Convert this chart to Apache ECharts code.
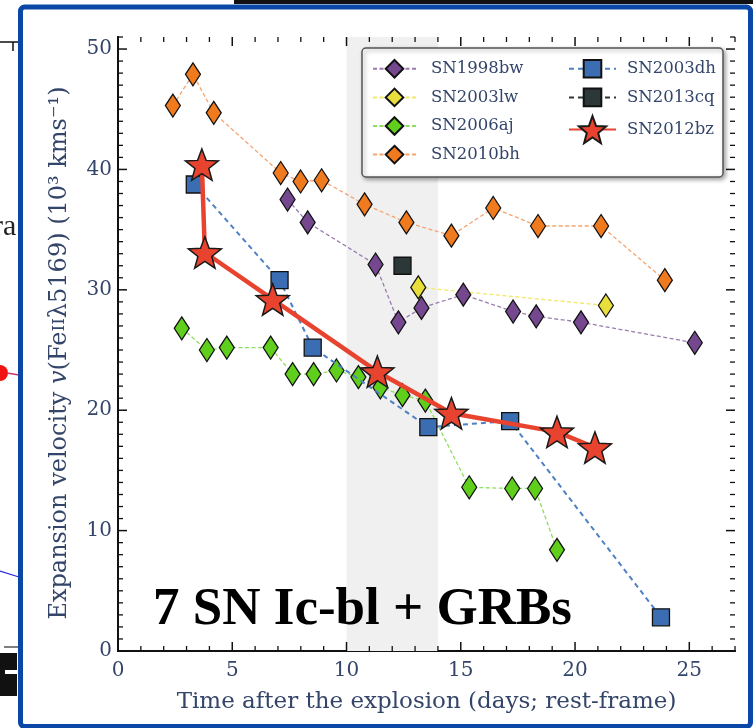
<!DOCTYPE html>
<html>
<head>
<meta charset="utf-8">
<script src="https://cdn.jsdelivr.net/npm/echarts@6/dist/echarts.min.js"></script>
<style>
  html, body { margin: 0; padding: 0; background: #ffffff; }
  #chart { width: 753px; height: 728px; }
</style>
</head>
<body>
<div id="chart"></div>
<script>
// Fe II 5169 expansion velocities (10^3 km/s) vs. rest-frame days after explosion
const sn1998bwDays = [7.42, 8.30, 11.27, 12.27, 13.28, 15.11, 17.29, 18.30, 20.26, 25.24];
const sn1998bwVel  = [37.5, 35.6, 32.1, 27.3, 28.5, 29.6, 28.2, 27.8, 27.3, 25.6];

const sn2003lwDays = [13.14, 21.35];
const sn2003lwVel  = [30.2, 28.7];

const sn2006ajDays = [2.79, 3.89, 4.76, 6.68, 7.64, 8.56, 9.56, 10.52, 11.48, 12.45, 13.45, 15.37, 17.25, 18.25, 19.21];
const sn2006ajVel  = [26.8, 25.0, 25.2, 25.2, 23.0, 23.0, 23.3, 22.75, 21.9, 21.25, 20.8, 13.6, 13.5, 13.5, 8.4];

const sn2010bhDays = [2.40, 3.28, 4.19, 7.12, 7.99, 8.91, 10.79, 12.62, 14.59, 16.42, 18.38, 21.14, 23.93];
const sn2010bhVel  = [45.3, 47.9, 44.7, 39.7, 39.0, 39.1, 37.1, 35.6, 34.5, 36.8, 35.3, 35.3, 30.8];

const sn2003dhDays = [3.36, 7.07, 8.52, 13.58, 17.16, 23.76];
const sn2003dhVel  = [38.75, 30.8, 25.2, 18.6, 19.1, 2.8];

const sn2013cqDays = [12.45];
const sn2013cqVel  = [32.0];

const sn2012bzDays = [3.67, 3.80, 6.77, 11.35, 14.59, 19.21, 20.87];
const sn2012bzVel  = [40.4, 33.1, 29.2, 23.2, 19.75, 18.2, 16.9];

// shaded epoch window (days)
const bandDays = [10, 14];

// axis tick labels
const xTickLabels = ['0', '5', '10', '15', '20', '25'];
const yTickLabels = ['0', '10', '20', '30', '40', '50'];

const pairs = (xs, ys) => xs.map((x, i) => [x, ys[i]]);

// five-pointed star marker
function starPath() {
  const R = 50, r = 21, cx = 50, cy = 50;
  let d = '';
  for (let k = 0; k < 10; k++) {
    const a = -Math.PI / 2 + k * Math.PI / 5;
    const rad = k % 2 === 0 ? R : r;
    d += (k === 0 ? 'M' : 'L') + (cx + rad * Math.cos(a)).toFixed(2) + ' ' + (cy + rad * Math.sin(a)).toFixed(2) + ' ';
  }
  return 'path://' + d + 'Z';
}
const STAR = starPath();

const SERIF = '"DejaVu Serif", serif';
const TXT = '#34456a';
const XMIN = 0, XMAX = 27, YMIN = 0, YMAX = 51;
const X_MAJOR = 5, Y_MAJOR = 10;   // labelled tick spacing
const MINOR_STEP = 1;              // minor tick spacing on both axes
const TICK_MAJOR = 9, TICK_MINOR = 5;

function diamondSeries(name, xs, ys, fill, line) {
  return {
    name, type: 'line', data: pairs(xs, ys),
    symbol: 'diamond', symbolSize: [15, 23],
    itemStyle: { color: fill, borderColor: '#111', borderWidth: 1.3 },
    lineStyle: { color: line, width: 1.3, type: [4, 2.5] },
    z: 3
  };
}

const xFmt = v => (xTickLabels.indexOf(String(v)) >= 0 ? String(v) : '');
const yFmt = v => (yTickLabels.indexOf(String(v)) >= 0 ? String(v) : '');

// tick positions stepped along an axis range, like the axis itself does
function tickSteps(lo, hi, step) {
  const out = [];
  for (let v = lo; v <= hi + 1e-9; v += step) out.push(v);
  return out;
}

// inward-pointing ticks on both edges of the plot box, drawn through the axis scales
function tickSeries(dim) {
  const isX = dim === 'x';
  const vals = isX ? tickSteps(XMIN, XMAX, MINOR_STEP) : tickSteps(YMIN, YMAX, MINOR_STEP);
  const major = isX ? X_MAJOR : Y_MAJOR;
  return {
    type: 'custom', silent: true, z: 6, clip: false,
    data: vals.map(v => (isX ? [v, YMIN] : [XMIN, v])),
    renderItem(params, api) {
      const v = isX ? api.value(0) : api.value(1);
      const isMajor = Math.abs(v / major - Math.round(v / major)) < 1e-9;
      const len = isMajor ? TICK_MAJOR : TICK_MINOR;
      const lw = isMajor ? 1.5 : 1.3;
      const a = isX ? api.coord([v, YMIN]) : api.coord([XMIN, v]);
      const b = isX ? api.coord([v, YMAX]) : api.coord([XMAX, v]);
      const st = { stroke: '#111', lineWidth: lw };
      return {
        type: 'group',
        children: isX ? [
          { type: 'line', shape: { x1: a[0], y1: a[1], x2: a[0], y2: a[1] - len }, style: st },
          { type: 'line', shape: { x1: b[0], y1: b[1], x2: b[0], y2: b[1] + len }, style: st }
        ] : [
          { type: 'line', shape: { x1: a[0], y1: a[1], x2: a[0] + len, y2: a[1] }, style: st },
          { type: 'line', shape: { x1: b[0], y1: b[1], x2: b[0] - len, y2: b[1] }, style: st }
        ]
      };
    }
  };
}

const frameLine = { show: true, lineStyle: { color: '#111', width: 2 } };

const option = {
  animation: false,
  backgroundColor: '#ffffff',
  grid: { left: 118, right: 18, top: 37, bottom: 77, containLabel: false },
  xAxis: [
    {
      type: 'value', min: XMIN, max: XMAX, interval: X_MAJOR, position: 'bottom',
      splitLine: { show: false }, axisLine: frameLine, axisTick: { show: false },
      axisLabel: { formatter: xFmt, color: TXT, fontFamily: SERIF, fontSize: 20, margin: 10 },
      name: 'Time after the explosion (days; rest-frame)',
      nameLocation: 'middle', nameGap: 40,
      nameTextStyle: { color: TXT, fontFamily: SERIF, fontSize: 23 }
    },
    {
      type: 'value', min: XMIN, max: XMAX, interval: X_MAJOR, position: 'top',
      splitLine: { show: false }, axisLine: frameLine, axisTick: { show: false }, axisLabel: { show: false }
    }
  ],
  yAxis: [
    {
      type: 'value', min: YMIN, max: YMAX, interval: Y_MAJOR, position: 'left',
      splitLine: { show: false }, axisLine: frameLine, axisTick: { show: false },
      axisLabel: { formatter: yFmt, color: TXT, fontFamily: SERIF, fontSize: 20, margin: 6 },
      name: '{a|Expansion velocity }{i|v}{a|(Fe}{s|II}{a|λ5169) (10³ kms⁻¹)}',
      nameLocation: 'middle', nameGap: 46, nameRotate: 90,
      nameTextStyle: {
        color: TXT, fontFamily: SERIF, fontSize: 24, padding: [0, 18, 0, 0],
        rich: {
          a: { color: TXT, fontFamily: SERIF, fontSize: 24 },
          i: { color: TXT, fontFamily: SERIF, fontSize: 24, fontStyle: 'italic' },
          s: { color: TXT, fontFamily: SERIF, fontSize: 17 }
        }
      }
    },
    {
      type: 'value', min: YMIN, max: YMAX, interval: Y_MAJOR, position: 'right',
      splitLine: { show: false }, axisLine: frameLine, axisTick: { show: false }, axisLabel: { show: false }
    }
  ],
  legend: [
    {
      data: ['SN1998bw', 'SN2003lw', 'SN2006aj', 'SN2010bh'],
      orient: 'vertical', left: 367, top: 54,
      itemWidth: 43, itemHeight: 22, itemGap: 9,
      textStyle: { color: TXT, fontFamily: SERIF, fontSize: 16.5, padding: [0, 0, 0, 10] },
      selectedMode: false, z: 8
    },
    {
      data: ['SN2003dh', 'SN2013cq'],
      orient: 'vertical', left: 563, top: 54,
      itemWidth: 47, itemHeight: 22, itemGap: 9,
      textStyle: { color: TXT, fontFamily: SERIF, fontSize: 16.5, padding: [0, 0, 0, 6] },
      selectedMode: false, z: 8
    },
    {
      data: ['SN2012bz'],
      orient: 'vertical', left: 563, top: 110,
      itemWidth: 47, itemHeight: 34,
      textStyle: { color: TXT, fontFamily: SERIF, fontSize: 16.5, padding: [0, 0, 0, 6] },
      selectedMode: false, z: 8
    }
  ],
  series: [
    Object.assign(diamondSeries('SN1998bw', sn1998bwDays, sn1998bwVel, '#74478f', '#9a7cb0'), {
      markArea: {
        silent: true, z: 1,
        itemStyle: { color: '#f0f0f0', opacity: 1 },
        data: [[{ xAxis: bandDays[0] }, { xAxis: bandDays[1] }]]
      }
    }),
    diamondSeries('SN2003lw', sn2003lwDays, sn2003lwVel, '#e8de3c', '#f2e96a'),
    diamondSeries('SN2006aj', sn2006ajDays, sn2006ajVel, '#5fcf1c', '#8fde5e'),
    diamondSeries('SN2010bh', sn2010bhDays, sn2010bhVel, '#f07a1e', '#f5a470'),
    {
      name: 'SN2003dh', type: 'line', data: pairs(sn2003dhDays, sn2003dhVel),
      symbol: 'rect', symbolSize: 17,
      itemStyle: { color: '#3b6db3', borderColor: '#111', borderWidth: 1.3 },
      lineStyle: { color: '#4d80c4', width: 2, type: [5, 4] },
      z: 4
    },
    {
      name: 'SN2013cq', type: 'line', data: pairs(sn2013cqDays, sn2013cqVel),
      symbol: 'rect', symbolSize: 17,
      itemStyle: { color: '#2c3838', borderColor: '#111', borderWidth: 1.3 },
      lineStyle: { color: '#2c3838', width: 2, type: [5, 4] },
      z: 4
    },
    {
      name: 'SN2012bz', type: 'line', data: pairs(sn2012bzDays, sn2012bzVel),
      symbol: STAR, symbolSize: 33, symbolKeepAspect: true,
      itemStyle: { color: '#e8432e', borderColor: '#1a1a1a', borderWidth: 1.5 },
      lineStyle: { color: '#e8432e', width: 4.5 },
      z: 5
    },
    tickSeries('x'),
    tickSeries('y')
  ],
  graphic: [
    // legend frame
    {
      type: 'rect', z: 7,
      shape: { x: 362, y: 48, width: 361, height: 129, r: 4 },
      style: {
        fill: '#ffffff', stroke: '#555555', lineWidth: 1.5,
        shadowBlur: 4, shadowColor: 'rgba(0,0,0,0.35)', shadowOffsetX: 2, shadowOffsetY: 2
      }
    },
    // caption
    {
      type: 'text', z: 12, left: 153, top: 584,
      style: {
        text: '7 SN Ic-bl + GRBs',
        font: 'bold 53px "Liberation Serif", "Times New Roman", serif',
        fill: '#000000'
      }
    },
    // slide frame
    {
      type: 'rect', z: 20,
      shape: { x: 20.5, y: 7, width: 730, height: 719.5, r: 4 },
      style: { fill: 'none', stroke: '#0b47a6', lineWidth: 5 }
    },
    { type: 'rect', z: 19, shape: { x: 234, y: 0, width: 519, height: 4 }, style: { fill: '#111111' } },
    // neighbouring panel edge
    { type: 'line', z: 15, shape: { x1: 0, y1: 42, x2: 19, y2: 42 }, style: { stroke: '#111', lineWidth: 1.5 } },
    { type: 'line', z: 15, shape: { x1: 13, y1: 42, x2: 13, y2: 51 }, style: { stroke: '#111', lineWidth: 1.5 } },
    {
      type: 'text', z: 15, left: -7, top: 212,
      style: { text: 'ra', font: '30px "Liberation Serif", serif', fill: '#222' }
    },
    { type: 'circle', z: 15, shape: { cx: 0, cy: 373, r: 8 }, style: { fill: '#f01414' } },
    { type: 'line', z: 15, shape: { x1: 7, y1: 373, x2: 19, y2: 375 }, style: { stroke: '#cc3366', lineWidth: 1.5 } },
    { type: 'line', z: 15, shape: { x1: 0, y1: 571, x2: 19, y2: 577 }, style: { stroke: '#2828e0', lineWidth: 1.2 } },
    { type: 'line', z: 15, shape: { x1: 4, y1: 647, x2: 18, y2: 647 }, style: { stroke: '#555', lineWidth: 1.5 } },
    { type: 'rect', z: 15, shape: { x: 0, y: 653, width: 17, height: 43 }, style: { fill: '#111' } },
    { type: 'rect', z: 16, shape: { x: 5, y: 670, width: 12, height: 4 }, style: { fill: '#ffffff' } }
  ]
};

const chart = echarts.init(document.getElementById('chart'), null, { renderer: 'canvas' });
chart.setOption(option);
</script>
</body>
</html>
